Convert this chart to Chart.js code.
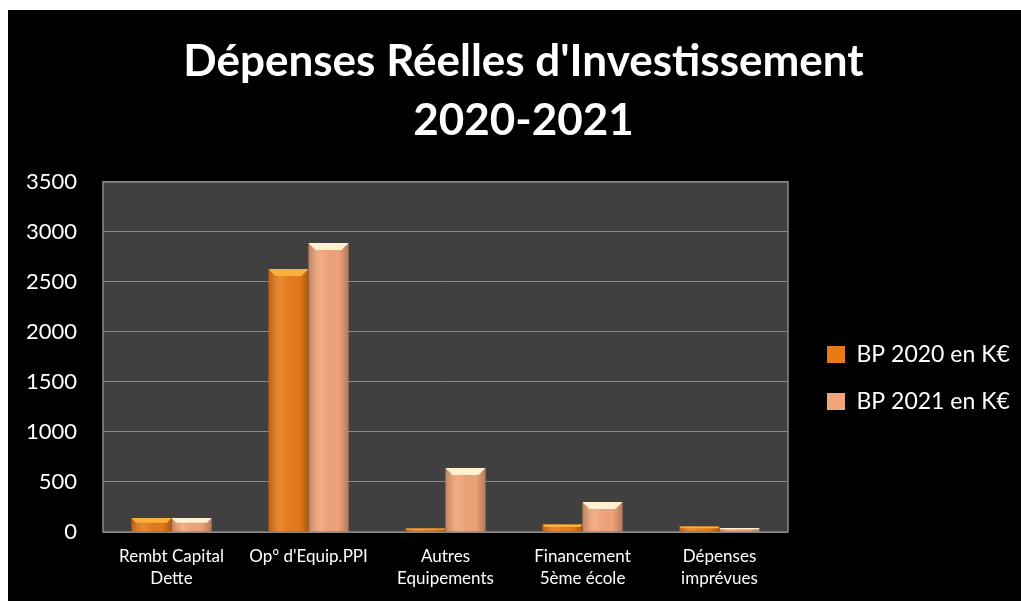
<!DOCTYPE html>
<html>
<head>
<meta charset="utf-8">
<script src="https://cdn.jsdelivr.net/npm/chart.js@4.4.1/dist/chart.umd.min.js"></script>
<style>
  html, body { margin: 0; padding: 0; background: #fff; }
  #wrap { position: absolute; left: 8px; top: 10px; width: 1013px; height: 591px; background: #000; }
</style>
</head>
<body>
<div id="wrap"><canvas id="chart"></canvas></div>
<script>
// Data
const categories = [
  ['Rembt Capital', 'Dette'],
  "Op° d'Equip.PPI",
  ['Autres', 'Equipements'],
  ['Financement', '5ème école'],
  ['Dépenses', 'imprévues']
];
const bp2020 = [140, 2630, 35, 75, 55];
const bp2021 = [140, 2890, 640, 300, 40];
const yTicks = [0, 500, 1000, 1500, 2000, 2500, 3000, 3500];

// Styles
const bodyColors = ['#E97A18', '#F2A57A'];
const topColors = ['#F7B23E', '#FFF0CF'];

Chart.defaults.font.family = 'Lato';
Chart.defaults.color = '#fff';

// plot background + frame
const plotFrame = {
  id: 'plotFrame',
  beforeDraw(chart) {
    const { ctx, chartArea: a } = chart;
    ctx.save();
    ctx.fillStyle = '#404040';
    ctx.fillRect(a.left, a.top, a.right - a.left, a.bottom - a.top);
    ctx.restore();
  },
  beforeDatasetsDraw(chart) {
    const { ctx, chartArea: a } = chart;
    ctx.save();
    ctx.strokeStyle = '#8a8a8a';
    ctx.lineWidth = 1.5;
    ctx.strokeRect(a.left, a.top, a.right - a.left, a.bottom - a.top);
    ctx.restore();
  }
};

// 3D-ish shading on the bars
const barShine = {
  id: 'barShine',
  afterDatasetsDraw(chart) {
    const ctx = chart.ctx;
    ctx.save();
    chart.data.datasets.forEach((ds, i) => {
      chart.getDatasetMeta(i).data.forEach(bar => {
        const { x, y, base, width } = bar.getProps(['x', 'y', 'base', 'width'], true);
        const left = x - width / 2, h = base - y;
        if (h <= 0) return;
        const g = ctx.createLinearGradient(left, 0, left + width, 0);
        g.addColorStop(0, 'rgba(0,0,0,0.22)');
        g.addColorStop(0.3, 'rgba(255,255,255,0.10)');
        g.addColorStop(0.75, 'rgba(0,0,0,0.02)');
        g.addColorStop(1, 'rgba(0,0,0,0.25)');
        ctx.fillStyle = g;
        ctx.fillRect(left, y, width, h);
        const t = Math.min(7, h * 0.35);
        ctx.fillStyle = topColors[i];
        ctx.beginPath();
        ctx.moveTo(left, y);
        ctx.lineTo(left + width, y);
        ctx.lineTo(left + width - t, y + t);
        ctx.lineTo(left + t, y + t);
        ctx.closePath();
        ctx.fill();
      });
    });
    ctx.restore();
  }
};

// push legend items right of the plot gap
const legendNudge = {
  id: 'legendNudge',
  afterLayout(chart) {
    chart.legend.left += 15;
    chart.legend.right += 15;
  }
};

const chart = new Chart(document.getElementById('chart'), {
  type: 'bar',
  data: {
    labels: categories,
    datasets: [
      { label: 'BP 2020 en K€', data: bp2020, backgroundColor: bodyColors[0], categoryPercentage: 0.584, barPercentage: 1 },
      { label: 'BP 2021 en K€', data: bp2021, backgroundColor: bodyColors[1], categoryPercentage: 0.584, barPercentage: 1 }
    ]
  },
  options: {
    responsive: true,
    maintainAspectRatio: false,
    animation: false,
    layout: { padding: { left: 18, right: 0, top: 0, bottom: -3 } },
    plugins: {
      title: {
        display: true,
        text: ["Dépenses Réelles d'Investissement", '2020-2021'],
        color: '#fff',
        font: { size: 44, weight: 'bold', lineHeight: 1.34 },
        padding: { top: 22, bottom: 32 }
      },
      legend: {
        position: 'right',
        title: { display: true, text: ' ', color: 'rgba(0,0,0,0)', font: { size: 10, lineHeight: 1 }, padding: { top: 0, bottom: 132 } },
        labels: { color: '#fff', font: { size: 23 }, boxWidth: 18, boxHeight: 17, padding: 24 }
      },
      tooltip: { enabled: false }
    },
    scales: {
      x: {
        grid: { display: false, drawTicks: false },
        border: { display: false },
        ticks: { color: '#fff', font: { size: 17, lineHeight: 1.294 }, padding: 14, maxRotation: 0, autoSkip: false }
      },
      y: {
        min: 0,
        max: 3500,
        afterFit(scale) { scale.width = 77; },
        afterBuildTicks(scale) { scale.ticks = yTicks.map(v => ({ value: v })); },
        grid: { color: '#8a8a8a', lineWidth: 1, drawTicks: false },
        border: { display: false },
        ticks: { color: '#fff', font: { size: 22 }, padding: 26, callback: v => String(v) }
      }
    }
  },
  plugins: [plotFrame, barShine, legendNudge]
});

// legend width fixed so the plot ends where the reference does
const fitLegend = chart.legend.fit;
chart.legend.fit = function () {
  fitLegend.call(this);
  this.width = 233;
};
chart.update('none');
</script>
</body>
</html>
